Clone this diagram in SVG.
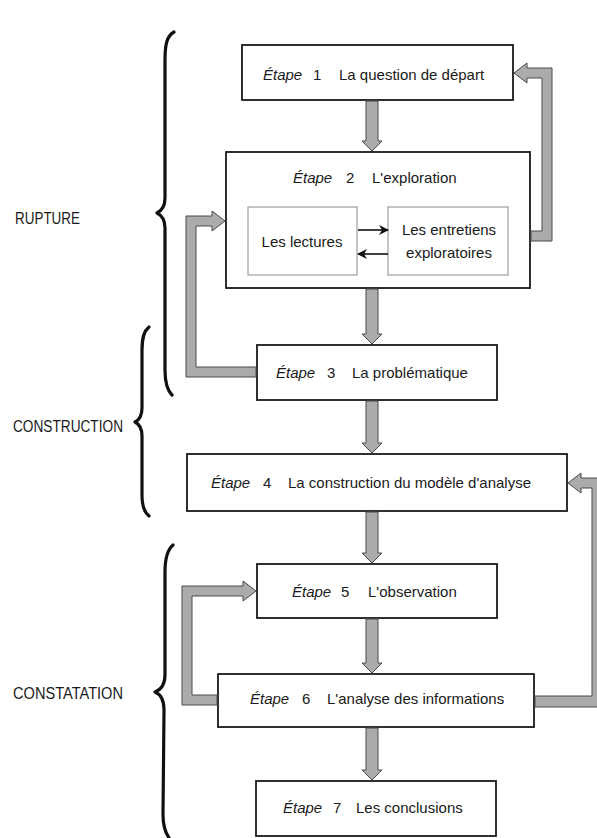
<svg xmlns="http://www.w3.org/2000/svg" width="597" height="838" viewBox="0 0 597 838">
<defs>
<style>
.box{fill:#fff;stroke:#1a1a1a;stroke-width:1.8}
.inner{fill:#fff;stroke:#8a8a8a;stroke-width:1}
.t{font-family:"Liberation Sans",Arial,sans-serif;font-size:15px;fill:#1a1a1a}
.i{font-style:italic}
.lab{font-family:"Liberation Sans",Arial,sans-serif;font-size:17px;fill:#1a1a1a}
.fat{fill:#ababab;stroke:#4a4a4a;stroke-width:1;stroke-linejoin:miter}
.brace{fill:none;stroke:#111;stroke-width:3.2;stroke-linecap:round;stroke-linejoin:round}
.thin{fill:none;stroke:#111;stroke-width:1.6}
</style>
<marker id="ah" viewBox="0 0 10 10" refX="9" refY="5" markerWidth="10" markerHeight="10" markerUnits="userSpaceOnUse" orient="auto">
<path d="M0,0 L10,5 L0,10 L3,5 Z" fill="#111"/>
</marker>
</defs>

<g id="braces">
<path class="brace" d="M174 32 C167 36 165 44 165 60 L165 198 C165 207 161 211 157 213 C161 215 165 219 165 228 L165 370 C165 382 167 390 172 395"/>
<path class="brace" d="M149 327 C144 331 142 337 142 350 L142 408 C142 416 139 420 135 422 C139 424 142 428 142 436 L142 495 C142 506 144 512 149 516"/>
<path class="brace" d="M173 545 C167 550 165 558 165 572 L165 675 C165 686 160 690 155 692 C160 694 164 698 164 710 L163 815 C163 826 165 832 169 838"/>
</g>
<g id="labels">
<text class="lab" x="15" y="224" textLength="65" lengthAdjust="spacingAndGlyphs">RUPTURE</text>
<text class="lab" x="13" y="432" textLength="110" lengthAdjust="spacingAndGlyphs">CONSTRUCTION</text>
<text class="lab" x="13" y="699" textLength="110" lengthAdjust="spacingAndGlyphs">CONSTATATION</text>
</g>

<g id="step1">
<rect class="box" x="242" y="45" width="271" height="55"/>
<text class="t" y="80"><tspan class="i" x="263">Étape</tspan><tspan x="313">1</tspan><tspan x="339">La question de départ</tspan></text>
</g>
<g id="step2">
<rect class="box" x="226" y="152" width="304" height="136"/>
<text class="t" y="183"><tspan class="i" x="293">Étape</tspan><tspan x="346">2</tspan><tspan x="372">L'exploration</tspan></text>
</g>
<g id="lectures">
<rect class="inner" x="248" y="207" width="109" height="68"/>
<text class="t" x="302" y="247" text-anchor="middle">Les lectures</text>
</g>
<g id="entretiens">
<rect class="inner" x="388" y="207" width="120" height="68"/>
<text class="t" x="449" y="235" text-anchor="middle">Les entretiens</text>
<text class="t" x="449" y="258" text-anchor="middle">exploratoires</text>
</g>
<g id="step3">
<rect class="box" x="257" y="345" width="240" height="55"/>
<text class="t" y="378"><tspan class="i" x="276">Étape</tspan><tspan x="327">3</tspan><tspan x="352">La problématique</tspan></text>
</g>
<g id="step4">
<rect class="box" x="187" y="454" width="380" height="57"/>
<text class="t" y="488"><tspan class="i" x="211">Étape</tspan><tspan x="263">4</tspan><tspan x="288">La construction du modèle d'analyse</tspan></text>
</g>
<g id="step5">
<rect class="box" x="257" y="564" width="240" height="54"/>
<text class="t" y="597"><tspan class="i" x="292">Étape</tspan><tspan x="341">5</tspan><tspan x="368">L'observation</tspan></text>
</g>
<g id="step6">
<rect class="box" x="218" y="674" width="316" height="53"/>
<text class="t" y="704"><tspan class="i" x="250">Étape</tspan><tspan x="302">6</tspan><tspan x="327">L'analyse des informations</tspan></text>
</g>
<g id="step7">
<rect class="box" x="256" y="781" width="240" height="55"/>
<text class="t" y="813"><tspan class="i" x="283">Étape</tspan><tspan x="333">7</tspan><tspan x="356">Les conclusions</tspan></text>
</g>

<g id="connectors">
<path class="fat" d="M366 101 L378 101 L378 141 L382 141 L372 151 L362 141 L366 141 Z"/>
<path class="fat" d="M366 289 L378 289 L378 334 L382 334 L372 344 L362 334 L366 334 Z"/>
<path class="fat" d="M366 401 L378 401 L378 443 L382 443 L372 453 L362 443 L366 443 Z"/>
<path class="fat" d="M366 512 L378 512 L378 553 L382 553 L372 563 L362 553 L366 553 Z"/>
<path class="fat" d="M366 619 L378 619 L378 663 L382 663 L372 673 L362 663 L366 663 Z"/>
<path class="fat" d="M366 728 L378 728 L378 770 L382 770 L372 780 L362 770 L366 770 Z"/>
<path class="fat" d="M531 231 L542 231 L542 78 L527 78 L527 83 L514 73 L527 63 L527 68 L552 68 L552 241 L531 241 Z"/>
<path class="fat" d="M256 367 L196 367 L196 226 L212 226 L212 231 L225 221 L212 211 L212 216 L186 216 L186 377 L256 377 Z"/>
<path class="fat" d="M217 695 L192 695 L192 596 L243 596 L243 601 L256 591 L243 581 L243 586 L182 586 L182 705 L217 705 Z"/>
<path class="fat" d="M535 696 L592 696 L592 488 L581 488 L581 493 L568 483 L581 473 L581 478 L602 478 L602 707 L535 707 Z"/>
<line class="thin" x1="358" y1="230" x2="388" y2="230" marker-end="url(#ah)"/>
<line class="thin" x1="388" y1="254" x2="358" y2="254" marker-end="url(#ah)"/>
</g>
</svg>
